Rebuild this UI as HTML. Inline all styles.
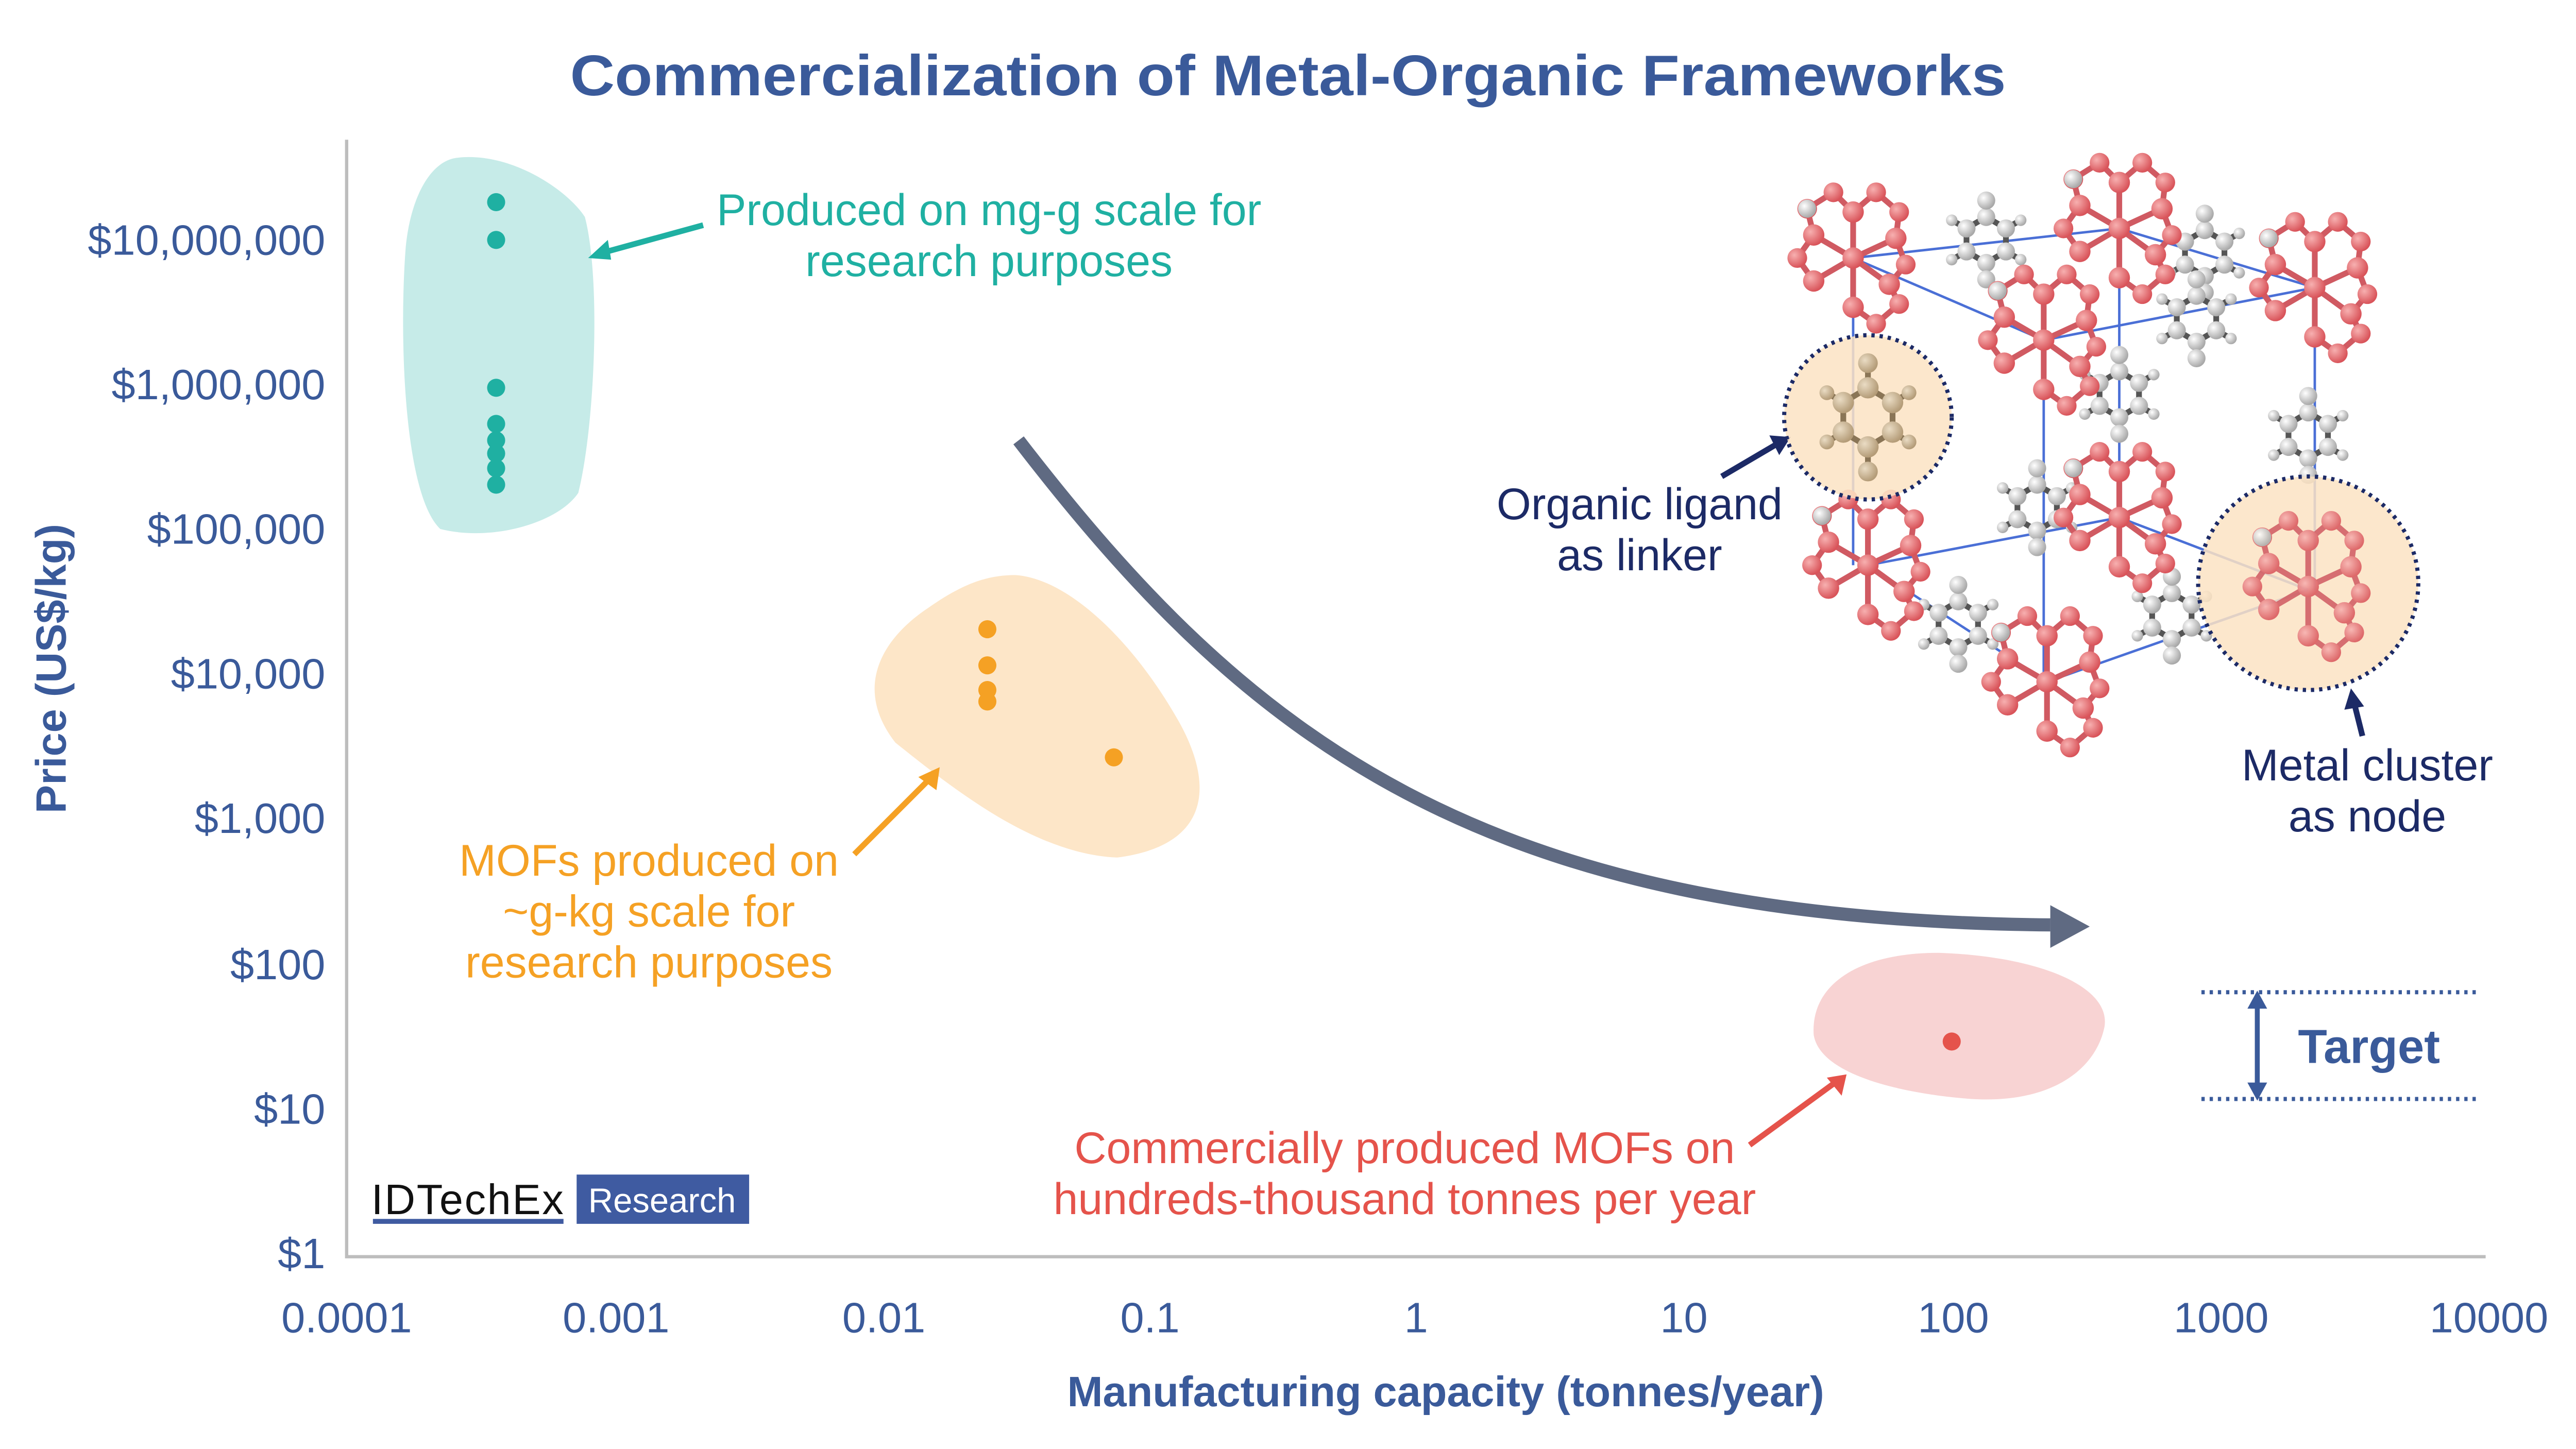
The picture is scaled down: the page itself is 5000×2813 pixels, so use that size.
<!DOCTYPE html>
<html><head><meta charset="utf-8"><style>html,body{margin:0;padding:0;background:#fff}svg{display:block}text{font-family:"Liberation Sans",sans-serif}</style></head>
<body>
<svg width="5000" height="2813" viewBox="0 0 1568 882" xmlns="http://www.w3.org/2000/svg">
<defs>
<radialGradient id="rg" cx="35%" cy="35%" r="65%"><stop offset="0" stop-color="#f7b0b0"/><stop offset="1" stop-color="#d9545a"/></radialGradient>
<radialGradient id="gg" cx="35%" cy="35%" r="65%"><stop offset="0" stop-color="#ffffff"/><stop offset="1" stop-color="#a9a9a9"/></radialGradient>
<radialGradient id="tg" cx="35%" cy="35%" r="65%"><stop offset="0" stop-color="#eadcc4"/><stop offset="1" stop-color="#b49c78"/></radialGradient>
<g id="cl">
<g stroke="#d05a62" stroke-width="3.5" fill="none">
<path d="M0 0L0-28M0 0L26-12M0 0L22 16M0 0L0 30M0 0L-24 14M0 0L-24-14"/>
<path d="M0-28L-12-40L-28-30L-24-14M26-12L32 4L22 16M0 30L14 40L28 28L22 16M-24 14L-34 0L-24-14M0-28L14-40L28-28L26-12"/>
</g>
<g fill="url(#rg)"><circle r="6.5"/><circle cy="-28" r="6.5"/><circle cx="26" cy="-12" r="6.5"/><circle cx="22" cy="16" r="6.5"/><circle cy="30" r="6.5"/><circle cx="-24" cy="14" r="6.5"/><circle cx="-24" cy="-14" r="6.5"/><circle cx="-12" cy="-40" r="6"/><circle cx="-28" cy="-30" r="6"/><circle cx="32" cy="4" r="6"/><circle cx="14" cy="40" r="6"/><circle cx="28" cy="28" r="6"/><circle cx="-34" cy="0" r="6"/><circle cx="14" cy="-40" r="6"/><circle cx="28" cy="-28" r="6"/></g>
<circle cx="-28" cy="-30" r="5.5" fill="url(#gg)"/>
</g>
<g id="ring">
<g stroke="#555" stroke-width="3.5" fill="none"><path d="M0-14L12-7L12 7L0 14L-12 7L-12-7Z M12-7L21-12M12 7L21 12M-12-7L-21-12M-12 7L-21 12M0-14L0-24M0 14L0 24"/></g>
<g fill="url(#gg)"><circle cy="-14" r="5.5"/><circle cx="12" cy="-7" r="5.5"/><circle cx="12" cy="7" r="5.5"/><circle cy="14" r="5.5"/><circle cx="-12" cy="7" r="5.5"/><circle cx="-12" cy="-7" r="5.5"/><circle cx="21" cy="-12" r="3.5"/><circle cx="21" cy="12" r="3.5"/><circle cx="-21" cy="-12" r="3.5"/><circle cx="-21" cy="12" r="3.5"/><circle cy="-24" r="5.5"/><circle cy="24" r="5.5"/></g>
</g>
</defs>

<text x="784" y="58" text-anchor="middle" font-size="35" font-weight="bold" fill="#3a5a9a" textLength="874" lengthAdjust="spacingAndGlyphs">Commercialization of Metal-Organic Frameworks</text>

<path d="M211 85V765H1513" stroke="#bdbdbd" stroke-width="2" fill="none"/>
<g font-size="26" fill="#3a5a9a" text-anchor="end">
<text x="198" y="155">$10,000,000</text><text x="198" y="243">$1,000,000</text><text x="198" y="331">$100,000</text><text x="198" y="419">$10,000</text><text x="198" y="507">$1,000</text><text x="198" y="596">$100</text><text x="198" y="684">$10</text><text x="198" y="772">$1</text>
</g>
<g font-size="26" fill="#3a5a9a" text-anchor="middle">
<text x="211" y="811">0.0001</text><text x="375" y="811">0.001</text><text x="538" y="811">0.01</text><text x="700" y="811">0.1</text><text x="862" y="811">1</text><text x="1025" y="811">10</text><text x="1189" y="811">100</text><text x="1352" y="811">1000</text><text x="1515" y="811">10000</text>
</g>
<text x="880" y="856" text-anchor="middle" font-size="26" font-weight="bold" fill="#3a5a9a">Manufacturing capacity (tonnes/year)</text>
<text transform="translate(40,407) rotate(-90)" text-anchor="middle" font-size="26" font-weight="bold" fill="#3a5a9a">Price (US$/kg)</text>

<path d="M278 96C310 92 345 115 356 132C366 170 362 260 352 300C340 318 300 330 268 322C245 300 243 200 247 150C250 120 262 98 278 96Z" fill="#c6ebe8"/>
<path d="M618 350C650 352 690 390 718 440C740 480 735 515 680 522C630 520 580 480 545 452C520 420 535 390 565 370C585 356 600 350 618 350Z" fill="#fde6c8"/>
<path d="M1180 580C1240 582 1285 600 1281 625C1276 650 1250 672 1200 669C1160 666 1108 655 1104 630C1102 600 1130 580 1180 580Z" fill="#f8d3d3"/>

<g fill="#1fb0a2"><circle cx="302" cy="123" r="5.5"/><circle cx="302" cy="146" r="5.5"/><circle cx="302" cy="236" r="5.5"/><circle cx="302" cy="258" r="5.5"/><circle cx="302" cy="268" r="5.5"/><circle cx="302" cy="276" r="5.5"/><circle cx="302" cy="285" r="5.5"/><circle cx="302" cy="295" r="5.5"/></g>
<g fill="#f5a124"><circle cx="601" cy="383" r="5.5"/><circle cx="601" cy="405" r="5.5"/><circle cx="601" cy="420" r="5.5"/><circle cx="601" cy="427" r="5.5"/><circle cx="678" cy="461" r="5.5"/></g>
<circle cx="1188" cy="634" r="5.5" fill="#e5534b"/>

<path d="M620 268C760 450 900 560 1248 563" stroke="#5f6a82" stroke-width="8" fill="none"/>
<path d="M1248 551L1272 564L1248 577Z" fill="#5f6a82"/>

<g font-size="27" text-anchor="middle">
<text x="602" y="137" fill="#1fb0a2">Produced on mg-g scale for</text><text x="602" y="168" fill="#1fb0a2">research purposes</text>
<text x="395" y="533" fill="#f5a124">MOFs produced on</text><text x="395" y="564" fill="#f5a124">~g-kg scale for</text><text x="395" y="595" fill="#f5a124">research purposes</text>
<text x="855" y="708" fill="#e5534b">Commercially produced MOFs on</text><text x="855" y="739" fill="#e5534b">hundreds-thousand tonnes per year</text>
<text x="998" y="316" fill="#1c2a66">Organic ligand</text><text x="998" y="347" fill="#1c2a66">as linker</text>
<text x="1441" y="475" fill="#1c2a66">Metal cluster</text><text x="1441" y="506" fill="#1c2a66">as node</text>
</g>
<g stroke-width="3.5" fill="none">
<path d="M428 137L366 154" stroke="#1fb0a2"/><path d="M520 520L566 474" stroke="#f5a124"/><path d="M1065 697L1117 659" stroke="#e5534b"/><path d="M1048 290L1082 270" stroke="#1c2a66"/><path d="M1438 448L1433 428" stroke="#1c2a66"/>
</g>
<path d="M358 157L370 146L372 158Z" fill="#1fb0a2"/>
<path d="M572 467L570 481L559 473Z" fill="#f5a124"/>
<path d="M1124 654L1121 667L1112 656Z" fill="#e5534b"/>
<path d="M1090 266L1083 277L1077 265Z" fill="#1c2a66"/>
<path d="M1431 419L1439 430L1427 432Z" fill="#1c2a66"/>

<g stroke="#3a5a9a" stroke-width="2.5" stroke-dasharray="2 3"><path d="M1340 604H1508M1340 669H1508"/></g>
<path d="M1374 612V661" stroke="#3a5a9a" stroke-width="3"/>
<path d="M1368 614L1374 603L1380 614ZM1368 659L1374 670L1380 659Z" fill="#3a5a9a"/>
<text x="1442" y="647" text-anchor="middle" font-size="29" font-weight="bold" fill="#3a5a9a">Target</text>

<g stroke="#4a6fd6" stroke-width="1.5" fill="none">
<path d="M1128 157L1290 139L1409 175M1128 157L1244 207L1409 175M1128 157V344M1290 139V315M1409 175V359M1244 207V415M1137 344L1290 315L1405 359M1137 344L1246 415L1405 359"/>
</g>
<use href="#ring" x="1209" y="146"/>
<use href="#ring" x="1342" y="154"/>
<use href="#ring" x="1337" y="194"/>
<use href="#ring" x="1405" y="265"/>
<use href="#ring" x="1192" y="380"/>
<use href="#ring" x="1240" y="309"/>
<use href="#ring" x="1322" y="375"/>
<use href="#ring" x="1290" y="240"/>
<use href="#cl" x="1128" y="157"/>
<use href="#cl" x="1290" y="139"/>
<use href="#cl" x="1409" y="175"/>
<use href="#cl" x="1244" y="207"/>
<use href="#cl" x="1137" y="344"/>
<use href="#cl" x="1290" y="315"/>
<use href="#cl" x="1246" y="415"/>
<ellipse cx="1137" cy="254" rx="51" ry="50" fill="#fbe3c3" fill-opacity="0.85" stroke="#1c2a66" stroke-width="2.5" stroke-dasharray="2 3"/>
<g transform="translate(1137,254)"><g stroke="#8a7556" stroke-width="3.5" fill="none"><path d="M0-18L15-9L15 9L0 18L-15 9L-15-9Z M15-9L25-15M15 9L25 15M-15-9L-25-15M-15 9L-25 15M0-18V-33M0 18V33"/></g><g fill="url(#tg)"><circle cy="-18" r="6.5"/><circle cx="15" cy="-9" r="6.5"/><circle cx="15" cy="9" r="6.5"/><circle cy="18" r="6.5"/><circle cx="-15" cy="9" r="6.5"/><circle cx="-15" cy="-9" r="6.5"/><circle cx="25" cy="-15" r="4.5"/><circle cx="25" cy="15" r="4.5"/><circle cx="-25" cy="-15" r="4.5"/><circle cx="-25" cy="15" r="4.5"/><circle cy="-33" r="6"/><circle cy="33" r="6"/></g></g>
<ellipse cx="1405" cy="355" rx="67" ry="65" fill="#fbe3c3" fill-opacity="0.85" stroke="#1c2a66" stroke-width="2.5" stroke-dasharray="2 3"/>
<use href="#cl" x="1405" y="357" opacity="0.85"/>

<text x="226" y="739" font-size="26" fill="#111" textLength="117">IDTechEx</text>
<rect x="227" y="742" width="116" height="3" fill="#3f5ba1"/>
<rect x="351" y="715" width="105" height="30" fill="#3f5ba1"/>
<text x="403" y="738" text-anchor="middle" font-size="21" fill="#fff">Research</text>
</svg>
</body></html>
